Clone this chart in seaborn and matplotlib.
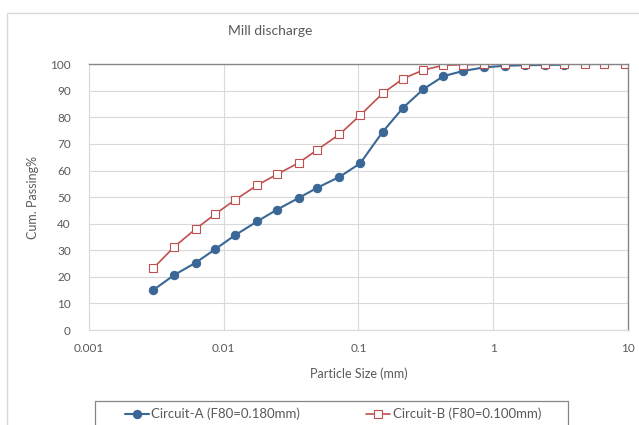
import matplotlib
matplotlib.use("Agg")
import matplotlib.pyplot as plt
import seaborn as sns
from matplotlib.patches import Rectangle

# Particle sizes (mm) and cumulative passing (%)
size_a = [0.003, 0.0043, 0.0062, 0.0086, 0.0121, 0.0178, 0.0247, 0.0361, 0.0494,
          0.0723, 0.103, 0.151, 0.215, 0.303, 0.427, 0.593, 0.857, 1.22, 1.73, 2.41, 3.36]
pass_a = [15.0, 20.7, 25.3, 30.3, 35.6, 40.9, 45.2, 49.7, 53.5,
          57.6, 62.7, 74.5, 83.7, 90.6, 95.5, 97.4, 98.8, 99.4, 99.6, 99.7, 99.8]

size_b = size_a + [4.79, 6.64, 9.47]
pass_b = [23.2, 31.3, 38.0, 43.5, 48.9, 54.5, 58.5, 62.9, 67.8,
          73.6, 80.8, 89.0, 94.6, 97.8, 99.6, 99.8, 100, 100, 100, 100, 100, 100, 100, 100]

label_a = "Circuit-A (F80=0.180mm)"
label_b = "Circuit-B (F80=0.100mm)"
y_ticks = list(range(0, 101, 10))
x_ticks = [0.001, 0.01, 0.1, 1, 10]
x_labels = ["0.001", "0.01", "0.1", "1", "10"]

sns.set_style("white")
plt.rcParams["font.family"] = ["Lato", "DejaVu Sans"]

blue = "#3B6796"
red = "#C0504D"
grey = "#595959"

fig = plt.figure(figsize=(6.39, 4.25), dpi=100)
ax = fig.add_axes([0.139, 0.2235, 0.844, 0.6255])

# outer chart border
fig.patches.append(Rectangle((7 / 639, -0.02), 1.0, 1 - 13 / 425 + 0.02,
                             transform=fig.transFigure, fill=False,
                             edgecolor="#D9D9D9", linewidth=1.0))
# legend box (runs off the bottom edge like the original)
fig.patches.append(Rectangle((95 / 639, -0.03), 473 / 639, 0.03 + 1 - 401 / 425,
                             transform=fig.transFigure, fill=False,
                             edgecolor="#868686", linewidth=0.9))

sns.lineplot(x=size_a, y=pass_a, ax=ax, color=blue, marker="o", markersize=6,
             markeredgecolor=blue, linewidth=1.5, label=label_a)
sns.lineplot(x=size_b, y=pass_b, ax=ax, color=red, marker="s", markersize=5.5,
             markerfacecolor="white", markeredgecolor=red, markeredgewidth=0.8,
             linewidth=1.2, label=label_b)

ax.set_xscale("log")
ax.set_xlim(0.001, 10)
ax.set_ylim(0, 100)
ax.set_xticks(x_ticks)
ax.set_xticklabels(x_labels)
ax.set_yticks(y_ticks)
ax.minorticks_off()
ax.tick_params(axis="both", labelsize=8.5, colors=grey, length=0)
ax.tick_params(axis="y", pad=13)
ax.tick_params(axis="x", pad=9)
ax.grid(True, color="#D9D9D9", linewidth=0.8)

for side in ["left", "bottom"]:
    ax.spines[side].set_color("#D9D9D9")
    ax.spines[side].set_linewidth(0.8)
for side in ["top", "right"]:
    ax.spines[side].set_color("#868686")
    ax.spines[side].set_linewidth(1.0)

ax.set_xlabel("Particle Size (mm)", fontsize=9, color=grey, labelpad=10)
ax.set_ylabel("Cum. Passing%", fontsize=9, color=grey, labelpad=8)
fig.text(270 / 639, 1 - 31 / 425, "Mill discharge", ha="center", va="center",
         fontsize=10, color=grey)

ax.get_legend().remove()
handles, labels = ax.get_legend_handles_labels()
leg = fig.legend(handles, labels, loc="center", bbox_to_anchor=(333 / 639, 1 - 414 / 425),
                 ncol=2, fontsize=9.5, frameon=False, handlelength=1.8,
                 handletextpad=0.2, columnspacing=5.0, borderpad=0.2)
for t in leg.get_texts():
    t.set_color(grey)

fig.savefig("out.png", dpi=100)
